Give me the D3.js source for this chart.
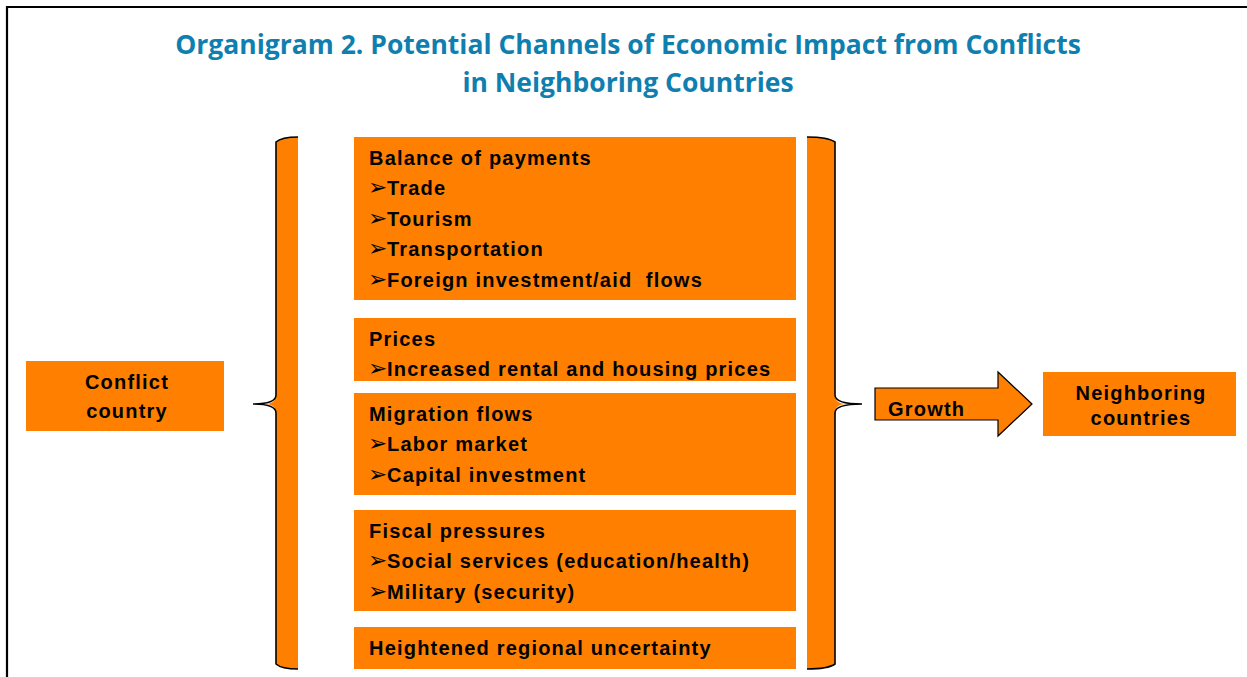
<!DOCTYPE html>
<html>
<head>
<meta charset="utf-8">
<script src="https://cdn.jsdelivr.net/npm/d3@7"></script>
<style>
  body { margin: 0; background: #fff; }
  svg { display: block; }
</style>
</head>
<body>
<div id="chart"></div>
<script>
(function() {

    var width = 1247,
        height = 677;

    // title lines
    var titleLines = ["Organigram 2. Potential Channels of Economic Impact from Conflicts",
                      "in Neighboring Countries"];

    // channel groups (heading + bullet items)
    var groupTitles = ["Balance of payments", "Prices", "Migration flows", "Fiscal pressures",
                       "Heightened regional uncertainty"];
    var groupItems = [
        ["Trade", "Tourism", "Transportation", "Foreign investment/aid  flows"],
        ["Increased rental and housing prices"],
        ["Labor market", "Capital investment"],
        ["Social services (education/health)", "Military (security)"],
        []
    ];
    // box extents of the middle column
    var groupTop = [137, 318, 393, 510, 627];
    var groupBottom = [300, 381, 495, 611, 669];

    var sourceLabel = ["Conflict", "country"];
    var arrowLabel = "Growth";
    var targetLabel = ["Neighboring", "countries"];

    var orange = "#ff8000";
    var titleColor = "#0f7fb0";
    var font = "'Liberation Sans', Arial, sans-serif";
    var fontSize = 20, spacing = 1.2;

    var svg = d3.select("#chart")
        .append("svg")
        .attr("width", width)
        .attr("height", height);

    // frame
    svg.append("path")
        .attr("d", "M7," + height + " L7,7 L" + width + ",7")
        .attr("fill", "none")
        .attr("stroke", "#000")
        .attr("stroke-width", 2.2);

    // title
    var titleText = svg.selectAll(".title")
        .data(titleLines)
        .enter().append("text")
        .attr("class", "title")
        .attr("x", 628)
        .attr("y", function(d, i) { return 54 + i * 38 })
        .attr("text-anchor", "middle")
        .attr("fill", titleColor)
        .attr("font-family", "'Open Sans', 'Noto Sans', sans-serif")
        .attr("font-weight", "bold")
        .attr("font-size", 24)
        .text(function(d) { return d });

    // fit first title line to its width in the picture
    var w0 = titleText.nodes()[0].getComputedTextLength();
    titleText.attr("font-size", 24 * 906 / w0);

    function label(sel) {
        return sel.attr("font-family", font)
            .attr("font-weight", "bold")
            .attr("font-size", fontSize)
            .attr("letter-spacing", spacing)
            .attr("fill", "#000");
    }

    var lineStep = 30.6;
    var midX0 = 354, midX1 = 796;

    var groups = svg.selectAll(".group")
        .data(groupTitles)
        .enter().append("g")
        .attr("class", "group");

    groups.append("rect")
        .attr("x", midX0)
        .attr("y", function(d, i) { return groupTop[i] })
        .attr("width", midX1 - midX0)
        .attr("height", function(d, i) { return groupBottom[i] - groupTop[i] })
        .attr("fill", orange);

    groups.each(function(d, i) {
        var g = d3.select(this);
        var lines = [{t: d, bullet: false}].concat(groupItems[i].map(function(s) { return {t: s, bullet: true} }));
        var y0 = groupTop[i] + 27.5;
        lines.forEach(function(l, j) {
            var y = y0 + j * lineStep;
            if (l.bullet) {
                g.append("text")
                    .attr("x", 368)
                    .attr("y", y)
                    .attr("font-family", "'DejaVu Sans', sans-serif")
                    .attr("font-size", 23)
                    .attr("fill", "#000")
                    .text("\u27A2");
            }
            label(g.append("text"))
                .attr("x", l.bullet ? 387 : 369)
                .attr("y", y)
                .style("white-space", "pre")
                .text(l.t);
        });
    });

    // brackets
    var top = 137, bottom = 669, mid = 404;

    function bracket(xi, xo, tip, inner) {
        // xi: flat side, xo: curved spine, tip: point of the brace
        var p = "M" + xi + "," + top + " Q" + (xo + (xi - xo) * 0.25) + "," + top + " " + xo + "," + (top + 5) +
            " L" + xo + "," + (mid - 9) + " Q" + xo + "," + mid + " " + tip + "," + mid +
            " Q" + xo + "," + mid + " " + xo + "," + (mid + 9) +
            " L" + xo + "," + (bottom - 5) + " Q" + (xo + (xi - xo) * 0.25) + "," + bottom + " " + xi + "," + bottom;
        return p;
    }

    svg.append("path").attr("d", bracket(298, 276, 264) + " Z").attr("fill", orange);
    svg.append("path").attr("d", bracket(807, 835, 847) + " Z").attr("fill", orange);
    [bracket(298, 276, 253), bracket(807, 835, 862)].forEach(function(p) {
        svg.append("path").attr("d", p)
            .attr("fill", "none")
            .attr("stroke", "#000")
            .attr("stroke-width", 1.6);
    });

    // conflict country box
    svg.append("rect")
        .attr("x", 26).attr("y", 361)
        .attr("width", 198).attr("height", 70)
        .attr("fill", orange);
    label(svg.selectAll(".src")
        .data(sourceLabel)
        .enter().append("text"))
        .attr("x", 127)
        .attr("y", function(d, i) { return 389 + i * 29 })
        .attr("text-anchor", "middle")
        .text(function(d) { return d });

    // growth arrow
    var arrow = d3.path();
    arrow.moveTo(875, 388);
    arrow.lineTo(998, 388);
    arrow.lineTo(998, 372);
    arrow.lineTo(1032, 404);
    arrow.lineTo(998, 436);
    arrow.lineTo(998, 420);
    arrow.lineTo(875, 420);
    arrow.closePath();
    svg.append("path")
        .attr("d", arrow.toString())
        .attr("fill", orange)
        .attr("stroke", "#000")
        .attr("stroke-width", 1.2);
    label(svg.append("text"))
        .attr("x", 888).attr("y", 416)
        .text(arrowLabel);

    // neighboring countries box
    svg.append("rect")
        .attr("x", 1043).attr("y", 372)
        .attr("width", 193).attr("height", 64)
        .attr("fill", orange);
    label(svg.selectAll(".tgt")
        .data(targetLabel)
        .enter().append("text"))
        .attr("x", 1141)
        .attr("y", function(d, i) { return 400 + i * 25 })
        .attr("text-anchor", "middle")
        .text(function(d) { return d });

})();
</script>
</body>
</html>
